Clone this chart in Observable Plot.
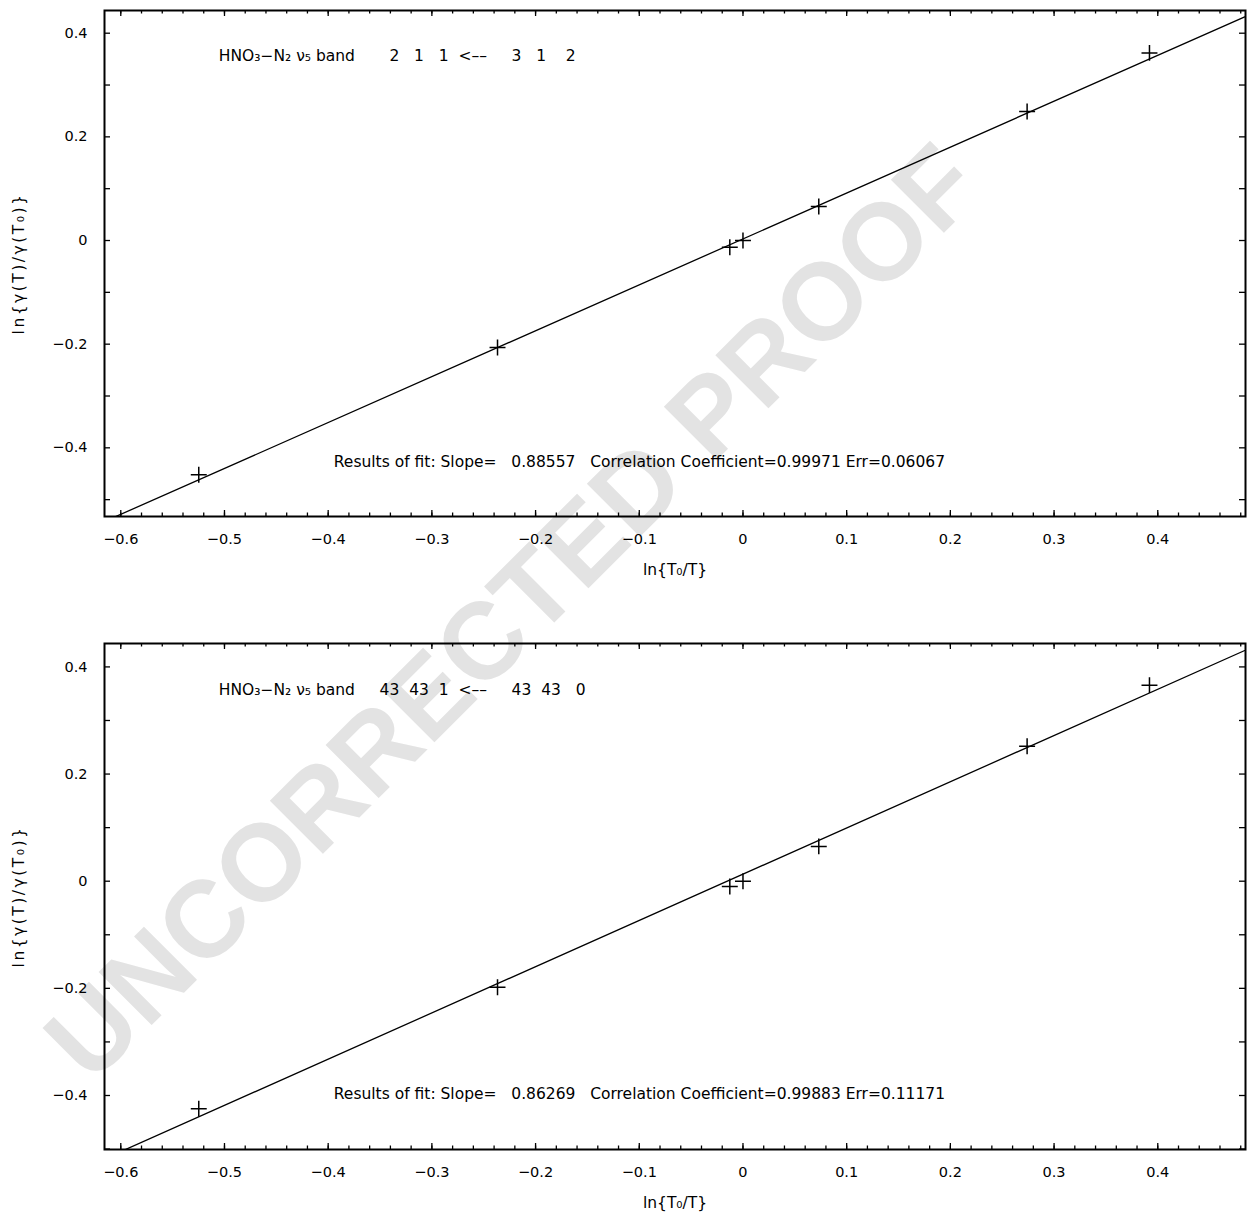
<!DOCTYPE html>
<html>
<head>
<meta charset="utf-8">
<script src="https://cdn.jsdelivr.net/npm/d3@7"></script>
<script src="https://cdn.jsdelivr.net/npm/@observablehq/plot@0.6"></script>
<style>
  body { margin: 0; background: white; }
  #wrap { position: relative; width: 1253px; height: 1212px; overflow: hidden; }
  #wm { position: absolute; left: 0; top: 0; z-index: 0; }
  #charts { position: absolute; left: 0; top: 0; z-index: 1; }
  #charts svg { white-space: pre; }
</style>
</head>
<body>
<div id="wrap">
  <svg id="wm" width="1253" height="1212">
    <text x="518" y="618" transform="rotate(-45 518 618)" text-anchor="middle" dominant-baseline="middle"
      font-family="Liberation Sans, Arial, sans-serif" font-weight="bold" font-size="109" fill="#e3e3e3">UNCORRECTED PROOF</text>
  </svg>
  <div id="charts"></div>
</div>
<script>
// ---- data ----
const xValues = [-0.5248, -0.2367, -0.0127, 0.0, 0.0731, 0.274, 0.392];
const yTop    = [-0.452, -0.2064, -0.0129, 0.0, 0.0656, 0.249, 0.362];
const yBottom = [-0.4248, -0.198, -0.0097, 0.0, 0.065, 0.252, 0.366];

// fitted lines (end points across the frame)
const fitX       = [-0.62, 0.49];
const fitTopY    = [-0.546, 0.437];
const fitBottomY = [-0.522, 0.436];

const xMajorTicks = [-0.6, -0.5, -0.4, -0.3, -0.2, -0.1, 0, 0.1, 0.2, 0.3, 0.4];
const yLabelTicks = [-0.4, -0.2, 0, 0.2, 0.4];
const yAllTicks   = [-0.5, -0.4, -0.3, -0.2, -0.1, 0, 0.1, 0.2, 0.3, 0.4];

const bandLabels = [
  "HNO₃−N₂ ν₅ band       2   1   1  <––     3   1    2",
  "HNO₃−N₂ ν₅ band     43  43  1  <––     43  43   0"
];
const fitLabels = [
  "Results of fit: Slope=   0.88557   Correlation Coefficient=0.99971 Err=0.06067",
  "Results of fit: Slope=   0.86269   Correlation Coefficient=0.99883 Err=0.11171"
];
const xLabel = "ln{T₀/T}";
const yLabel = "ln{γ(T)/γ(T₀)}";

const xDomain = [-0.6157, 0.4846];
const yDomains = [[-0.5325, 0.4438], [-0.5008, 0.4437]];

const FONT = "DejaVu Sans, sans-serif";
const TICK_FS = 14.5;
const FS = 15.5;
const fmt = d => (d < 0 ? "−" : "") + String(Math.abs(d));

function panel(idx, ys, fitY, height, marginTop, marginBottom) {
  const plotH = height - marginTop - marginBottom;
  const xMinor = d3.range(-60, 49, 2).map(v => v / 100).filter(v => v >= xDomain[0] && v <= xDomain[1]);
  const pts = xValues.map((x, i) => ({x, y: ys[i]}));
  const fit = fitX.map((x, i) => ({x, y: fitY[i]}));
  const yTicks = yAllTicks.filter(v => v >= yDomains[idx][0] && v <= yDomains[idx][1]);
  const svg = Plot.plot({
    width: 1253,
    height,
    marginLeft: 104,
    marginRight: 8,
    marginTop,
    marginBottom,
    style: {background: "transparent", fontFamily: FONT, fontSize: FS + "px", color: "black", overflow: "visible"},
    x: {domain: xDomain},
    y: {domain: yDomains[idx]},
    marks: [
      Plot.line(fit, {x: "x", y: "y", stroke: "black", strokeWidth: 1.3, clip: true}),
      Plot.dot(pts, {x: "x", y: "y", symbol: "plus", r: 5.2, stroke: "black", strokeWidth: 1.5}),
      Plot.ruleX(xMajorTicks, {x: d => d, insetTop: plotH - 6, stroke: "black", strokeWidth: 1.3}),
      Plot.ruleX(xMajorTicks, {x: d => d, insetBottom: plotH - 6, stroke: "black", strokeWidth: 1.3}),
      Plot.ruleX(xMinor, {x: d => d, insetTop: plotH - 3.5, stroke: "black", strokeWidth: 1.3}),
      Plot.ruleX(xMinor, {x: d => d, insetBottom: plotH - 3.5, stroke: "black", strokeWidth: 1.3}),
      Plot.ruleY(yTicks, {y: d => d, insetRight: 1141 - 6, stroke: "black", strokeWidth: 1.3}),
      Plot.ruleY(yTicks, {y: d => d, insetLeft: 1141 - 6, stroke: "black", strokeWidth: 1.3}),
      Plot.frame({stroke: "black", strokeWidth: 2}),
      Plot.axisX(xMajorTicks, {tickSize: 0, tickPadding: 17, fontSize: TICK_FS, tickFormat: fmt, label: null}),
      Plot.axisY(yLabelTicks, {tickSize: 0, tickPadding: 17, fontSize: TICK_FS, tickFormat: fmt, label: null}),
      Plot.text([xLabel], {frameAnchor: "bottom", dy: 54, lineAnchor: "middle", textAnchor: "middle", fontSize: FS}),
      Plot.text([yLabel], {frameAnchor: "left", dx: -85, rotate: -90, textAnchor: "middle", lineAnchor: "middle", fontSize: FS}),
      Plot.text([bandLabels[idx]], {x: () => -0.5055, y: () => (idx === 0 ? 0.355 : 0.357), textAnchor: "start", fontSize: FS}),
      Plot.text([fitLabels[idx]], {x: () => -0.3946, y: () => (idx === 0 ? -0.428 : -0.398), textAnchor: "start", fontSize: FS})
    ]
  });
  d3.select(svg).selectAll("text").filter(function() { return this.textContent === yLabel; })
    .style("letter-spacing", "2.5px");
  return svg;
}

const charts = document.getElementById("charts");
charts.appendChild(panel(0, yTop, fitTopY, 632, 10, 116));
charts.appendChild(panel(1, yBottom, fitBottomY, 580, 11, 63));
</script>
</body>
</html>
